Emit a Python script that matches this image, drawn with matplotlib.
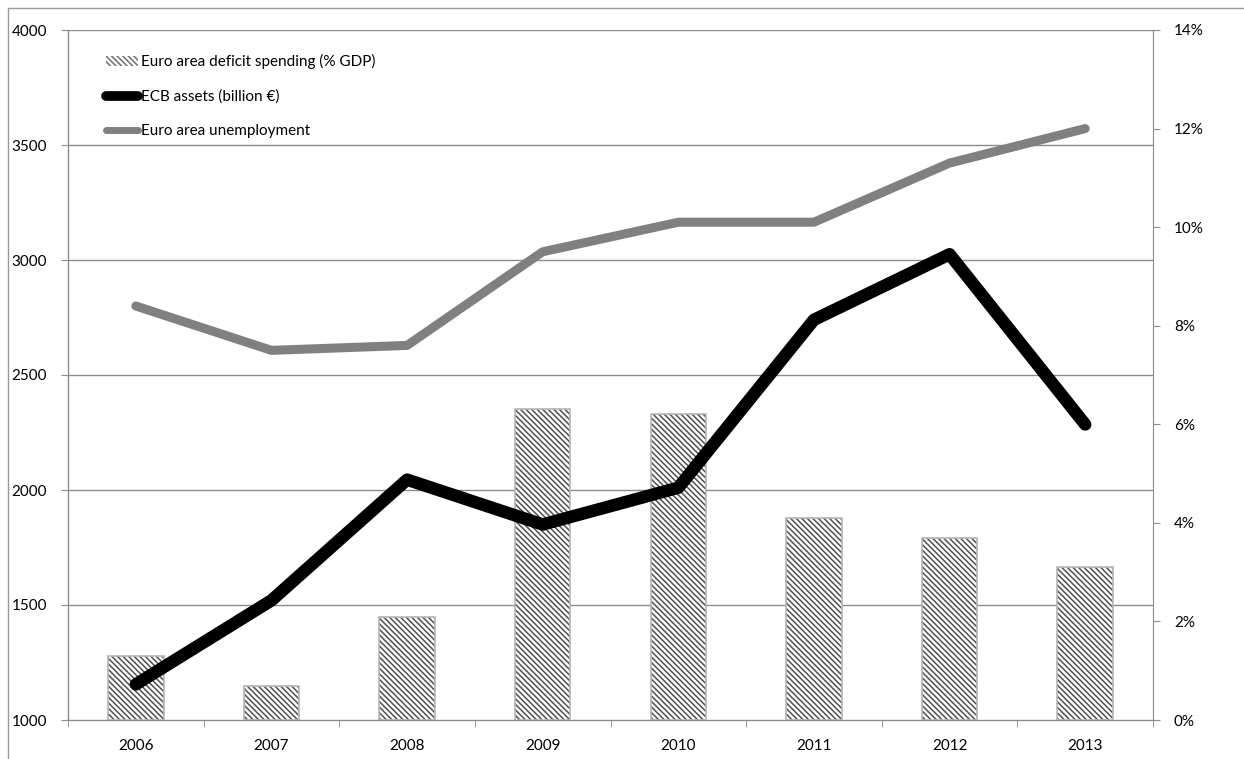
import matplotlib
matplotlib.use("Agg")
import matplotlib.pyplot as plt
from matplotlib.lines import Line2D
from matplotlib.patches import Patch
import numpy as np

years = ["2006", "2007", "2008", "2009", "2010", "2011", "2012", "2013"]
deficit_pct = [1.3, 0.7, 2.1, 6.3, 6.2, 4.1, 3.7, 3.1]
ecb_assets = [1155, 1520, 2045, 1850, 2010, 2740, 3025, 2285]
unemployment_pct = [8.4, 7.5, 7.6, 9.5, 10.1, 10.1, 11.3, 12.0]

left_ticks = [1000, 1500, 2000, 2500, 3000, 3500, 4000]
right_ticks = [0, 2, 4, 6, 8, 10, 12, 14]

plt.rcParams['font.family'] = ['Lato', 'DejaVu Sans']
plt.rcParams['hatch.linewidth'] = 1.1

W, H = 1244, 759
fig = plt.figure(figsize=(W / 100, H / 100), dpi=100)
fig.patch.set_facecolor('white')

rect = [68 / W, 1 - 720 / H, (1153 - 68) / W, (720 - 30) / H]
ax = fig.add_axes(rect)
ax2 = ax.twinx()
ax3 = ax.twinx()

x = np.arange(len(years))
axis_col = '#8c8c8c'
grid_col = '#8c8c8c'
hatch_pat = '\\' * 6

# base axes: left scale + grid
ax.set_xlim(-0.5, len(years) - 0.5)
ax.set_ylim(1000, 4000)
ax.set_yticks(left_ticks)
ax.set_yticklabels([str(v) for v in left_ticks])
for v in left_ticks[1:]:
    ax.axhline(v, color=grid_col, lw=1.0, zorder=0)
ax.set_xticks(x)
ax.set_xticklabels(years)
ax.set_xticks(np.arange(len(years) + 1) - 0.5, minor=True)
ax.tick_params(axis='x', which='major', length=0, pad=14, labelsize=11)
ax.tick_params(axis='x', which='minor', length=5, color=axis_col, direction='out')
ax.tick_params(axis='y', length=5, color=axis_col, labelsize=11, pad=10)
for s in ['top', 'right']:
    ax.spines[s].set_visible(False)
for s in ['left', 'bottom']:
    ax.spines[s].set_color(axis_col)
    ax.spines[s].set_linewidth(1.0)

# right axis: bars + unemployment
ax2.set_zorder(ax.get_zorder() + 1)
ax2.patch.set_visible(False)
ax2.set_ylim(0, 14)
ax2.set_yticks(right_ticks)
ax2.set_yticklabels([f"{v}%" for v in right_ticks])
ax2.tick_params(axis='y', length=5, color=axis_col, labelsize=11, pad=10)
for s in ['top', 'left', 'bottom']:
    ax2.spines[s].set_visible(False)
ax2.spines['right'].set_color(axis_col)

bw = 0.41
ax2.bar(x, deficit_pct, width=bw, facecolor='white', edgecolor='#505050',
        hatch=hatch_pat, linewidth=0, zorder=1)
ax2.bar(x, deficit_pct, width=bw, facecolor='none', edgecolor='#b5b5b5',
        linewidth=1.2, zorder=2)
ax2.plot(x, unemployment_pct, color='#808080', lw=6.5,
         solid_capstyle='round', solid_joinstyle='round', zorder=3)

# ECB line on top, left scale
ax3.set_zorder(ax2.get_zorder() + 1)
ax3.patch.set_visible(False)
ax3.set_ylim(1000, 4000)
ax3.axis('off')
ax3.plot(x, ecb_assets, color='black', lw=9,
         solid_capstyle='round', solid_joinstyle='round', zorder=3)

handles = [
    Patch(facecolor='white', edgecolor='#707070', hatch=hatch_pat, linewidth=0),
    Line2D([], [], color='black', lw=7, solid_capstyle='round'),
    Line2D([], [], color='#808080', lw=5, solid_capstyle='round'),
]
labels = ["Euro area deficit spending (% GDP)", "ECB assets (billion €)",
          "Euro area unemployment"]
leg = ax3.legend(handles, labels, loc='upper left', bbox_to_anchor=(0.029, 0.974),
                 borderaxespad=0, frameon=False, fontsize=11, handlelength=2.1,
                 handleheight=0.6, handletextpad=0.25, labelspacing=1.33)

# outer frame
fig.add_artist(Line2D([8 / W, 8 / W], [0, 1 - 8 / H], transform=fig.transFigure,
                      color='#999999', lw=1))
fig.add_artist(Line2D([8 / W, 1], [1 - 8 / H, 1 - 8 / H], transform=fig.transFigure,
                      color='#999999', lw=1))

fig.savefig('out.png', dpi=100)
